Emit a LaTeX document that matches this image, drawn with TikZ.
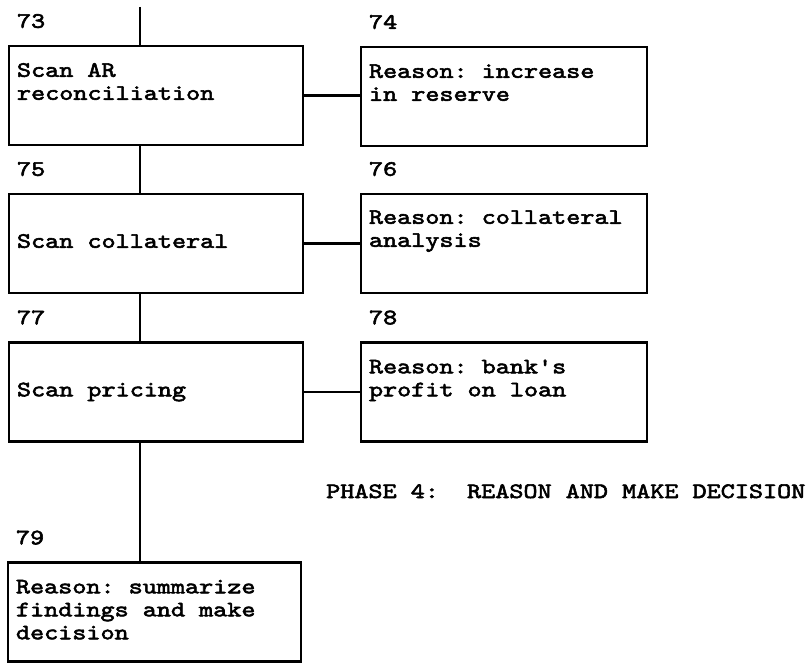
\documentclass[tikz,border=0pt]{standalone}
\usepackage{fontspec}
\newfontfamily\courfont{Latin Modern Mono}[FakeStretch=1.22,FakeBold=2.6]
\begin{document}
\frenchspacing
\begin{tikzpicture}[x=0.5pt,y=-0.5pt,line width=1.2pt,
  box/.style={draw,inner sep=0pt,minimum height=49.5pt},
  txt/.style={anchor=base west,align=left,inner sep=0pt,
    font=\courfont\fontsize{11}{11.5}\selectfont}]
  \useasboundingbox (0,0) rectangle (812,663);
  % left column: scan steps
  \foreach \n/\y in {73/95.5, 75/243.5, 77/392}{
    \node[box,minimum width=147pt] (b\n) at (156,\y) {};}
  \node[box,minimum width=146.5pt] (b79) at (154.5,612) {};
  % right column: reasons
  \foreach \n/\y in {74/96.5, 76/243.5, 78/392}{
    \node[box,minimum width=143pt] (b\n) at (504,\y) {};}
  % texts sit on the baseline of their last line
  \foreach \n/\d/\t in {73/55/{Scan AR\\reconciliation}, 74/55/{Reason: increase\\in reserve},
                        75/55/{Scan collateral}, 76/54/{Reason: collateral\\analysis},
                        77/55/{Scan pricing}, 78/55/{Reason: bank's\\profit on loan},
                        79/78/{Reason: summarize\\findings and make\\decision}}{
    \node[txt] (t\n) at ([shift={(8,\d)}]b\n.north west) {\t};
    \node[txt] (n\n) at ([shift={(8,-17)}]b\n.north west) {\n};}
  \coordinate (in) at (140,7);
  \draw (in) -- (in |- b73.north);
  \draw (b73.south -| in) -- (b75.north -| in);
  \draw (b75.south -| in) -- (b77.north -| in);
  \draw (b77.south -| in) -- (b79.north -| in);
  \foreach \a/\b in {73/74, 75/76, 77/78}{\draw (b\a.east) -- (b\a.east -| b\b.west);}
  \node[txt] (phase) at (325,498) {PHASE 4:\ \ REASON AND MAKE DECISION};
\end{tikzpicture}
\end{document}
